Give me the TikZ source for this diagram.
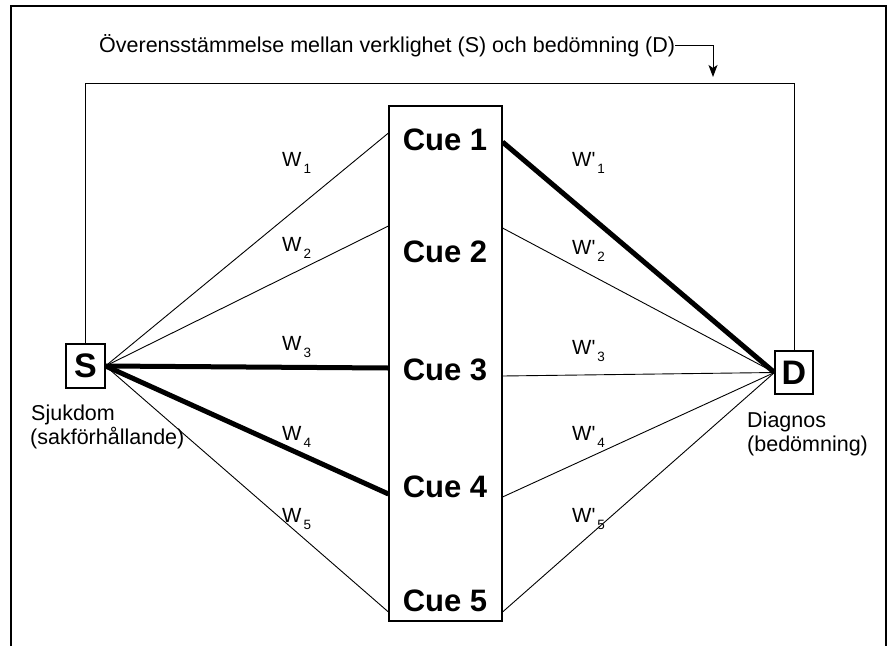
\documentclass[tikz,border=0pt]{standalone}
\usepackage{fontspec}
\setmainfont{Liberation Sans}
\usetikzlibrary{arrows.meta}
\tikzset{
  box/.style={draw,line width=1.1pt,inner sep=0pt,font=\fontsize{34}{34}\selectfont\bfseries},
  cuelabel/.style={inner sep=0pt,font=\fontsize{31}{31}\selectfont\bfseries},
  caption/.style={inner sep=0pt,font=\fontsize{21.5}{24}\selectfont},
  weight/.style={inner sep=0pt,font=\fontsize{20.5}{20.5}\selectfont},
  thinlink/.style={line width=0.9pt},
  stronglink/.style={line width=5pt},
}
% weight label with a lowered index
\newcommand{\wsub}[2]{#1\kern2pt\raisebox{-7pt}{\fontsize{13.5}{13.5}\selectfont #2}}
\begin{document}
\begin{tikzpicture}[x=1pt,y=-1pt]
\useasboundingbox (0,0) rectangle (887,646);

% outer frame (open at the bottom)
\draw[line width=1.3pt] (11,646) -- (11,6) -- (886,6) -- (886,646);

% S, D and the column of cues
\node[box,minimum width=39pt,minimum height=44pt] (S) at (85.5,366) {S};
\node[box,minimum width=38pt,minimum height=43pt] (D) at (794,372.5) {D};
\node[draw,line width=1.1pt,inner sep=0pt,minimum width=113pt,minimum height=515pt] (cues) at (445.5,363.5) {};

\node[cuelabel] (c1) at (445,140) {Cue 1};
\node[cuelabel] (c2) at (445,252) {Cue 2};
\node[cuelabel] (c3) at (445,370) {Cue 3};
\node[cuelabel] (c4) at (445,487) {Cue 4};
\node[cuelabel] (c5) at (445,601) {Cue 5};

% attachment points on the cue column
\coordinate (L1) at (cues.west |- 0,133);
\coordinate (L2) at (cues.west |- 0,226);
\coordinate (L3) at (cues.west |- 0,368);
\coordinate (L4) at (cues.west |- 0,494);
\coordinate (L5) at (cues.west |- 0,612);
\coordinate (R1) at (cues.east |- 0,142);
\coordinate (R2) at (cues.east |- 0,228);
\coordinate (R3) at (cues.east |- 0,376);
\coordinate (R4) at (cues.east |- 0,497);
\coordinate (R5) at (cues.east |- 0,612);

% links S -> cues
\draw[thinlink] (S.east) -- (L1);
\draw[thinlink] (S.east) -- (L2);
\draw[stronglink] (S.east) -- (L3);
\draw[stronglink] (S.east) -- (L4);
\draw[thinlink] (S.east) -- (L5);

% links cues -> D
\draw[stronglink] (R1) -- (D.west);
\draw[thinlink] (R2) -- (D.west);
\draw[thinlink] (R3) -- (D.west);
\draw[thinlink] (R4) -- (D.west);
\draw[thinlink] (R5) -- (D.west);

% weights
\node[weight,anchor=base west] (w1) at (282,166) {\wsub{W}{1}};
\node[weight,anchor=base west] (w2) at (282,251) {\wsub{W}{2}};
\node[weight,anchor=base west] (w3) at (282,350) {\wsub{W}{3}};
\node[weight,anchor=base west] (w4) at (282,440) {\wsub{W}{4}};
\node[weight,anchor=base west] (w5) at (282,522) {\wsub{W}{5}};
\node[weight,anchor=base west] (v1) at (572,166) {\wsub{W\textquotesingle}{1}};
\node[weight,anchor=base west] (v2) at (572,254) {\wsub{W\textquotesingle}{2}};
\node[weight,anchor=base west] (v3) at (572,354) {\wsub{W\textquotesingle}{3}};
\node[weight,anchor=base west] (v4) at (572,440) {\wsub{W\textquotesingle}{4}};
\node[weight,anchor=base west] (v5) at (572,522) {\wsub{W\textquotesingle}{5}};

% captions
\node[caption,anchor=base west] (sj1) at (31,420) {Sjukdom};
\node[caption,anchor=base west] (sj2) at (30,444) {(sakförhållande)};
\node[caption,anchor=base west] (dg1) at (747,427) {Diagnos};
\node[caption,anchor=base west] (dg2) at (747,451) {(bedömning)};

% feedback loop between S and D
\coordinate (looptop) at (0,83);
\draw[line width=1pt] (S.north) |- (looptop -| D.north) -- (D.north);

% title with its arrow onto the loop
\node[caption,anchor=base west] (title) at (99,52) {Överensstämmelse mellan verklighet (S) och bedömning (D)};
\coordinate (arrowend) at (713,77);
\draw[line width=1pt,-{Stealth[length=12pt,width=9pt,inset=3pt]}] (title.east) -| (arrowend);
\end{tikzpicture}
\end{document}
